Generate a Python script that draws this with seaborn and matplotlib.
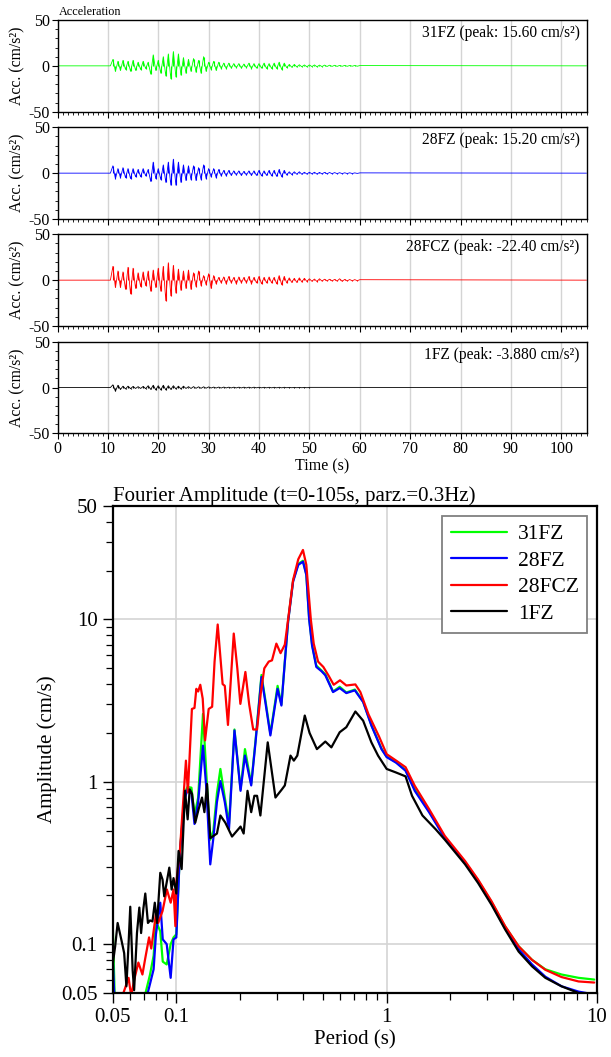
import numpy as np
import matplotlib
matplotlib.use("Agg")
import matplotlib.pyplot as plt
import seaborn as sns
from matplotlib.ticker import MultipleLocator, NullFormatter, FixedLocator

# ---------------- data: acceleration traces (cm/s^2) ----------------
stations = ["31FZ", "28FZ", "28FCZ", "1FZ"]
colors = ["#00ff00", "#0000ff", "#ff0000", "#000000"]
peak_labels = ["31FZ (peak: 15.60 cm/s²)", "28FZ (peak: 15.20 cm/s²)",
               "28FCZ (peak: -22.40 cm/s²)", "1FZ (peak: -3.880 cm/s²)"]
trace_start = 10.5   # s, first sample of the listed peaks
trace_step = 0.5     # s between listed peaks
record_end = 105.0

acc_31FZ = [0, 7, -6, 5, -5, 6, -4, 5, -6, 6, -5, 4, -4, 5, -3, 4, -9, 12, -5, 6,
            -8, 10, -11, 13, -14, 15.6, -12, 13, -10, 9, -8, 7, -6, 8, -7, 6, -8, 10, -6, 4,
            -4, 5, -5, 4, -3, 3, -3, 3, -2.5, 2.5, -2, 2.5, -2.5, 2, -2, 3, -3, 2.5, -2.5, 2.5,
            -2.5, 3, -3, 2.5, -3, 3, -3, 4, -4, 3, -2, 1.5, -1.5, 1.5, -1.2, 1.2, -1, 1, -1, 1,
            -0.8, 1, -1, 0.8, -0.8, 0.8, -0.7, 0.7, -0.6, 0.6, -0.6, 0.5, -0.5, 0.5, -0.5, 0.4,
            -0.4, 0.4, -0.4, 0.3]
acc_28FZ = [0, 8, -6, 5, -5, 6, -5, 5, -6, 5, -4, 4, -4, 5, -3, 4, -9, 12, -6, 5,
            -7, 9, -10, 12, -13, 15.2, -13, 12, -10, 9, -8, 8, -7, 8, -8, 6, -7, 9, -6, 5,
            -4, 5, -5, 4, -3, 3, -3, 3, -2.5, 2.5, -2, 2.5, -2.5, 2, -2, 2.5, -2.5, 2.5, -2.5, 3,
            -3, 2.5, -2.5, 3, -3, 3, -3.5, 4, -4, 3, -2, 1.5, -1.5, 1.5, -1.2, 1.5, -1.2, 1, -1, 1,
            -0.8, 1, -1, 0.8, -0.8, 0.8, -0.7, 0.7, -0.6, 0.6, -0.5, 0.5, -0.5, 0.4, -0.4, 0.4,
            -0.4, 0.3, -0.3, 0.3]
acc_28FCZ = [0, 15, -8, 10, -8, 9, -10, 14, -15, 13, -9, 8, -7, 9, -6, 10, -12, 11, -8, 13,
             -12, 15, -22.4, 19, -17, 16, -14, 12, -11, 10, -9, 11, -10, 8, -7, 10, -6, 5, -5, 7,
             -9, 5, -4, 3, -3, 3.5, -4, 4, -3, 3, -4, 3.5, -3, 3, -3, 4, -4, 3, -3, 4,
             -4, 3, -3, 3.5, -3, 3, -4, 5, -5, 4, -3, 2.5, -2.5, 2, -2.5, 2.5, -2, 2, -1.5, 1.5,
             -1.2, 1.2, -1.5, 1.5, -1, 1, -0.8, 1, -0.8, 0.8, -1, 1.5, -1.2, 0.8, -0.8, 0.7,
             -0.7, 0.6, -0.6, 0.5]
acc_1FZ = [0, 3, -3.88, 2.5, -2, 1.5, -1.5, 1.5, -1.2, 1.2, -1, 1, -1, 1.2, -1.2, 2, -2, 2.5, -2.5, 2,
           -2.5, 2.5, -2.5, 2, -2, 2, -1.5, 1.5, -1.5, 1.5, -1, 1, -1, 1, -0.8, 0.8, -0.8, 0.8, -0.7, 0.7,
           -0.5, 0.5, -0.5, 0.5, -0.5, 0.5, -0.4, 0.4, -0.4, 0.4, -0.4, 0.4, -0.4, 0.4, -0.4, 0.4,
           -0.4, 0.4, -0.3, 0.3, -0.3, 0.3, -0.3, 0.3, -0.3, 0.3, -0.3, 0.3, -0.3, 0.3, -0.2, 0.2,
           -0.2, 0.2, -0.2, 0.2, -0.2, 0.2, -0.2, 0.2]
traces = [acc_31FZ, acc_28FZ, acc_28FCZ, acc_1FZ]

# ---------------- data: Fourier amplitude spectra (cm/s) ----------------
period_FZ = [0.0497, 0.051, 0.06, 0.07, 0.075, 0.078, 0.080, 0.0839, 0.0862, 0.090,
             0.094, 0.097, 0.100, 0.104, 0.1095, 0.113, 0.118, 0.122, 0.127, 0.1339,
             0.139, 0.145, 0.150, 0.156, 0.162, 0.170, 0.178, 0.189, 0.202, 0.212,
             0.227, 0.238, 0.254, 0.266, 0.28, 0.303, 0.316, 0.328, 0.34, 0.359, 0.38, 0.40,
             0.415, 0.428, 0.442, 0.463, 0.49, 0.511, 0.556, 0.598, 0.643, 0.706,
             0.773, 0.846, 0.945, 1.0, 1.11, 1.23, 1.36, 1.59, 1.89, 2.36,
             2.72, 3.15, 3.66, 4.24, 4.91, 5.68, 6.78, 8.17, 9.7]
amp_31FZ = [0.153, 0.045, 0.035, 0.045, 0.065, 0.085, 0.138, 0.12, 0.078, 0.075,
            0.1, 0.11, 0.115, 0.37, 0.85, 0.93, 0.92, 0.62, 0.8, 2.62,
            1.1, 0.44, 0.5, 0.85, 1.2, 0.8, 0.55, 2.1, 0.9, 1.59,
            0.97, 1.8, 4.55, 3.1, 1.98, 3.9, 3.0, 5.5, 9.8, 17.3, 22.0, 23.0,
            19.0, 10.2, 7.0, 5.2, 4.85, 4.6, 3.6, 3.85, 3.55, 3.7,
            3.12, 2.24, 1.6, 1.43, 1.32, 1.18, 0.9, 0.66, 0.455, 0.32,
            0.247, 0.182, 0.128, 0.097, 0.08, 0.07, 0.065, 0.062, 0.0605]
amp_28FZ = [0.093, 0.04, 0.035, 0.04, 0.057, 0.07, 0.115, 0.18, 0.107, 0.10,
            0.062, 0.107, 0.11, 0.37, 0.78, 0.9, 0.85, 0.55, 0.75, 1.67,
            0.9, 0.31, 0.45, 0.75, 1.01, 0.75, 0.51, 2.07, 0.88, 1.45,
            0.95, 1.75, 4.42, 3.0, 1.93, 3.74, 2.95, 5.48, 9.7, 17.1, 21.7, 22.7,
            18.8, 10.0, 6.9, 5.1, 4.8, 4.53, 3.57, 3.78, 3.52, 3.66,
            3.10, 2.22, 1.59, 1.42, 1.31, 1.17, 0.88, 0.65, 0.45, 0.315,
            0.243, 0.178, 0.125, 0.093, 0.075, 0.063, 0.055, 0.051, 0.049]
period_28FCZ = [0.0545, 0.0593, 0.061, 0.063, 0.066, 0.069, 0.0712, 0.0742, 0.076, 0.080,
                0.082, 0.086, 0.0902, 0.094, 0.097, 0.099, 0.100, 0.104, 0.108, 0.1111,
                0.1135, 0.1186, 0.122, 0.1245, 0.127, 0.130, 0.1335, 0.137, 0.1425, 0.148,
                0.152, 0.1573, 0.166, 0.170, 0.176, 0.1875, 0.195, 0.2016, 0.213, 0.222,
                0.232, 0.242, 0.252, 0.262, 0.275, 0.285, 0.299, 0.313, 0.328, 0.34,
                0.359, 0.38, 0.40, 0.415, 0.436, 0.45, 0.472, 0.50, 0.53, 0.56,
                0.60, 0.643, 0.71, 0.75, 0.82, 0.92, 1.0, 1.11, 1.23, 1.36,
                1.59, 1.89, 2.36, 2.72, 3.15, 3.66, 4.24, 4.91, 5.68, 6.78, 8.17, 9.7]
amp_28FCZ = [0.045, 0.062, 0.048, 0.06, 0.077, 0.065, 0.082, 0.11, 0.094, 0.153,
             0.135, 0.16, 0.217, 0.18, 0.217, 0.129, 0.24, 0.375, 0.78, 1.35,
             0.86, 2.81, 2.85, 3.74, 3.6, 3.96, 3.25, 1.8, 2.81, 2.9,
             5.5, 9.31, 4.0, 3.9, 2.24, 8.19, 5.0, 3.02, 4.75, 3.0,
             2.1, 2.1, 3.5, 5.0, 5.5, 5.6, 7.1, 6.2, 7.0, 10.0,
             17.5, 23.5, 26.8, 21.7, 10.0, 7.1, 5.5, 5.1, 4.5, 3.96,
             4.22, 3.92, 3.98, 3.57, 2.6, 1.9, 1.48, 1.35, 1.23, 0.945,
             0.68, 0.464, 0.325, 0.25, 0.184, 0.129, 0.097, 0.080, 0.0695, 0.0627, 0.0589, 0.058]
period_1FZ = [0.0497, 0.0512, 0.0526, 0.055, 0.0565, 0.0579, 0.0593, 0.0604, 0.062, 0.063,
              0.065, 0.0667, 0.068, 0.0697, 0.0712, 0.0733, 0.075, 0.077, 0.079, 0.081,
              0.0839, 0.086, 0.0876, 0.0926, 0.095, 0.097, 0.100, 0.1025, 0.106, 0.110,
              0.1132, 0.1158, 0.1188, 0.123, 0.1277, 0.1325, 0.136, 0.140, 0.145, 0.156,
              0.162, 0.171, 0.184, 0.202, 0.209, 0.218, 0.227, 0.235, 0.242, 0.251,
              0.272, 0.296, 0.318, 0.328, 0.349, 0.362, 0.376, 0.408, 0.43, 0.466,
              0.511, 0.546, 0.598, 0.643, 0.71, 0.773, 0.846, 0.91, 1.0, 1.11,
              1.23, 1.32, 1.48, 1.71, 1.89, 2.36, 2.72, 3.15, 3.66, 4.24,
              4.91, 5.68, 6.78, 8.17, 9.7]
amp_1FZ = [0.073, 0.097, 0.135, 0.104, 0.088, 0.055, 0.101, 0.17, 0.069, 0.052,
           0.117, 0.168, 0.117, 0.165, 0.205, 0.135, 0.14, 0.138, 0.18, 0.135,
           0.275, 0.25, 0.197, 0.296, 0.217, 0.255, 0.205, 0.375, 0.29, 0.88,
           0.587, 0.90, 0.84, 0.56, 0.68, 0.80, 0.65, 0.97, 0.45, 0.48,
           0.62, 0.56, 0.46, 0.53, 0.48, 0.88, 0.65, 0.82, 0.82, 0.62,
           1.75, 0.80, 0.90, 0.95, 1.45, 1.35, 1.45, 2.56, 2.0, 1.59,
           1.77, 1.63, 2.02, 2.17, 2.71, 2.38, 1.75, 1.45, 1.2, 1.14,
           1.08, 0.82, 0.62, 0.51, 0.44, 0.31, 0.238, 0.175, 0.123, 0.09,
           0.073, 0.062, 0.055, 0.05, 0.047]
spectra = [(period_FZ, amp_31FZ), (period_FZ, amp_28FZ),
           (period_28FCZ, amp_28FCZ), (period_1FZ, amp_1FZ)]

time_ticks = list(range(0, 101, 10))
acc_ticks = [-50, 0, 50]
period_ticks = [0.05, 0.1, 1, 10]
period_labels = ["0.05", "0.1", "1", "10"]
amp_ticks = [0.05, 0.1, 1, 10, 50]
amp_labels = ["0.05", "0.1", "1", "10", "50"]

# ---------------- style ----------------
sns.set_theme(style="ticks")
plt.rcParams["font.family"] = ["Liberation Serif", "DejaVu Serif"]
plt.rcParams["axes.unicode_minus"] = False
plt.rcParams["axes.edgecolor"] = "black"
plt.rcParams["xtick.color"] = "black"
plt.rcParams["ytick.color"] = "black"
plt.rcParams["text.color"] = "black"
plt.rcParams["axes.labelcolor"] = "black"

W, H = 611, 1057
fig = plt.figure(figsize=(W / 100, H / 100), dpi=100)

# ---------------- acceleration panels ----------------
left_px, right_px = 57.5, 586.5
tops_px = [20, 127.3, 234.3, 341.7]
ph = 91.7
for i, (name, col, lab, vals) in enumerate(zip(stations, colors, peak_labels, traces)):
    top = tops_px[i]
    ax = fig.add_axes([left_px / W, 1 - (top + ph) / H, (right_px - left_px) / W, ph / H])
    n = len(vals)
    ts = trace_start + trace_step * np.arange(n)
    vs = np.asarray(vals, float)
    t = np.concatenate([[0.0], ts, [record_end]])
    a = np.concatenate([[0.0], vs, [0.0]])
    ax.vlines(ts, 0, vs, color=col, lw=0.8)
    sns.lineplot(x=t, y=a, ax=ax, color=col, lw=0.6, sort=False, estimator=None)
    ax.set_xlim(0, 105)
    ax.set_ylim(-50, 50)
    ax.set_xticks(time_ticks)
    ax.set_yticks(acc_ticks)
    ax.xaxis.set_minor_locator(MultipleLocator(1))
    ax.yaxis.set_minor_locator(MultipleLocator(10))
    ax.grid(axis="x", which="major", color="#d4d4d4", lw=1)
    ax.set_axisbelow(True)
    ax.tick_params(which="major", direction="out", length=4, width=0.8, labelsize=11.5, pad=1.5)
    ax.tick_params(which="minor", direction="out", length=2.5, width=0.6)
    for sp in ax.spines.values():
        sp.set_linewidth(1.0)
        sp.set_visible(True)
    ax.set_ylabel("Acc. (cm/s²)", fontsize=11.3, labelpad=2)
    ax.text(0.987, 0.86, lab, transform=ax.transAxes, ha="right", va="center", fontsize=11.2)
    if i < 3:
        ax.tick_params(axis="x", labelbottom=False)
        ax.set_xlabel("")
    else:
        ax.set_xlabel("Time (s)", fontsize=11.5, labelpad=1)
    if i == 0:
        ax.text(0.003, 1.02, "Acceleration", transform=ax.transAxes, ha="left", va="bottom",
                fontsize=8.7)

# ---------------- Fourier amplitude ----------------
bl, br, bt, bb = 113, 597, 506, 993
axf = fig.add_axes([bl / W, 1 - bb / H, (br - bl) / W, (bb - bt) / H])
for name, col, (per, amp) in zip(stations, colors, spectra):
    sns.lineplot(x=per, y=amp, ax=axf, color=col, lw=1.6, label=name, sort=False, estimator=None)
axf.set_xscale("log")
axf.set_yscale("log")
axf.set_xlim(0.05, 10)
axf.set_ylim(0.05, 50)
axf.xaxis.set_major_locator(FixedLocator(period_ticks))
axf.set_xticklabels(period_labels)
axf.yaxis.set_major_locator(FixedLocator(amp_ticks))
axf.set_yticklabels(amp_labels)
axf.xaxis.set_minor_formatter(NullFormatter())
axf.yaxis.set_minor_formatter(NullFormatter())
axf.grid(which="major", color="#d4d4d4", lw=1.2)
axf.set_axisbelow(True)
axf.tick_params(which="major", direction="out", length=7, width=1.0, labelsize=15, pad=4)
axf.tick_params(which="minor", direction="out", length=5, width=0.9)
for sp in axf.spines.values():
    sp.set_linewidth(1.6)
    sp.set_visible(True)
axf.set_xlabel("Period (s)", fontsize=15, labelpad=2)
axf.set_ylabel("Amplitude (cm/s)", fontsize=15, labelpad=3)
axf.set_title("Fourier Amplitude (t=0-105s, parz.=0.3Hz)", fontsize=15, loc="left", pad=3)
leg = axf.legend(loc="upper right", frameon=True, fancybox=False, edgecolor="#808080",
                 framealpha=1, fontsize=15.5, handlelength=2.6, borderpad=0.4,
                 labelspacing=0.3, handletextpad=0.5, borderaxespad=0.45)
leg.get_frame().set_linewidth(1.3)
for line in leg.get_lines():
    line.set_linewidth(1.6)

fig.savefig("out.png", dpi=100)
